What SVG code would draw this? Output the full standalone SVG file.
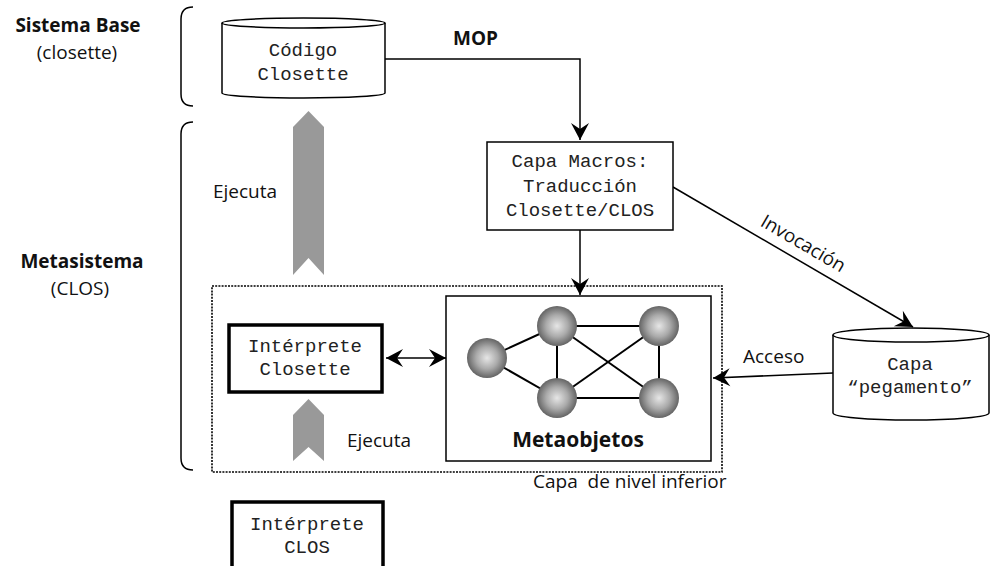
<svg xmlns="http://www.w3.org/2000/svg" width="991" height="566" viewBox="0 0 991 566">
<style>
.mono{font-family:"Liberation Mono","Courier New",monospace;font-size:19px;fill:#222;text-anchor:middle}
.sans{font-family:"Open Sans","Liberation Sans",sans-serif;font-size:19px;fill:#111}
.bold{font-family:"Open Sans","Liberation Sans",sans-serif;font-size:19px;font-weight:bold;fill:#111}
.ln{stroke:#000;stroke-width:1.5;fill:none}
.edge{stroke:#000;stroke-width:1.5}
.medge{stroke:#000;stroke-width:2}
.box{fill:#fff;stroke:#000;stroke-width:1.5}
.thick{fill:#fff;stroke:#000;stroke-width:3.5}
.chev{fill:#999}
.sph{fill:url(#sg)}
</style>
<defs>
<radialGradient id="sg" cx="50%" cy="50%" r="50%">
<stop offset="0" stop-color="#e6e6e6"/>
<stop offset="0.55" stop-color="#aaaaaa"/>
<stop offset="1" stop-color="#646464"/>
</radialGradient>
<marker id="ah" viewBox="-18 -10 20 20" markerWidth="20" markerHeight="20" refX="0" refY="0" orient="auto" markerUnits="userSpaceOnUse">
<path d="M0,0 L-17,-9 L-11,0 L-17,9 Z" fill="#000"/>
</marker>
<marker id="ahs" viewBox="-18 -10 20 20" markerWidth="20" markerHeight="20" refX="0" refY="0" orient="auto-start-reverse" markerUnits="userSpaceOnUse">
<path d="M0,0 L-17,-9 L-11,0 L-17,9 Z" fill="#000"/>
</marker>
</defs>

<!-- Brackets and side labels -->
<g id="brackets">
<path class="ln" d="M193,7 Q181,7 181,19 L181,94 Q181,106 193,106"/>
<path class="ln" d="M193,122 Q181,122 181,134 L181,458 Q181,470 193,470"/>
</g>
<g id="label-sistema-base">
<text class="bold" x="78" y="32" text-anchor="middle">Sistema Base</text>
<text class="sans" x="77" y="59" text-anchor="middle">(closette)</text>
</g>
<g id="label-metasistema">
<text class="bold" x="82" y="268" text-anchor="middle">Metasistema</text>
<text class="sans" x="80" y="295" text-anchor="middle">(CLOS)</text>
</g>

<!-- Layer boundary -->
<g id="capa-nivel-inferior">
<rect x="212" y="286" width="510" height="186" fill="none" stroke="#000" stroke-width="1.6" stroke-dasharray="2,1.2"/>
<text class="sans" x="533" y="488" xml:space="preserve">Capa  de nivel inferior</text>
</g>

<!-- Connectors -->
<g id="connectors">
<path class="ln" d="M385,59 L580,59 L580,140" marker-end="url(#ah)"/>
<text class="bold" x="453" y="45">MOP</text>
<line class="edge" x1="580" y1="230" x2="580" y2="295" marker-end="url(#ah)"/>
<line class="edge" x1="673" y1="187" x2="913" y2="327" marker-end="url(#ah)"/>
<text class="sans" transform="translate(800,249) rotate(30.3)" text-anchor="middle">Invocación</text>
<line class="edge" x1="833" y1="373" x2="713" y2="378" marker-end="url(#ah)"/>
<text class="sans" x="743" y="363">Acceso</text>
<line class="edge" x1="386" y1="358" x2="446" y2="358" marker-start="url(#ahs)" marker-end="url(#ah)"/>
<polygon class="chev" points="293,127 308.5,111 324,127 324,275 308.5,258 293,275"/>
<text class="sans" x="213" y="198">Ejecuta</text>
<polygon class="chev" points="293,415 308.5,399 324,415 324,461 308.5,447 293,461"/>
<text class="sans" x="347" y="447">Ejecuta</text>
</g>

<!-- Nodes -->
<g id="codigo-closette">
<path class="box" d="M222,23 L222,93 A81.5,5 0 0 0 385,93 L385,23"/>
<ellipse class="box" cx="303.5" cy="23" rx="81.5" ry="5"/>
<text class="mono" x="303" y="56">Código</text>
<text class="mono" x="303" y="80">Closette</text>
</g>

<g id="capa-macros">
<rect class="box" x="487" y="142" width="186" height="88"/>
<text class="mono" x="580" y="167">Capa Macros:</text>
<text class="mono" x="580" y="192">Traducción</text>
<text class="mono" x="580" y="216">Closette/CLOS</text>
</g>

<g id="interprete-closette">
<rect class="thick" x="229" y="325" width="153" height="67"/>
<text class="mono" x="305" y="352">Intérprete</text>
<text class="mono" x="305" y="375">Closette</text>
</g>

<g id="metaobjetos">
<rect class="box" x="446" y="296" width="265" height="165"/>
<line class="medge" x1="487" y1="358" x2="557" y2="326"/>
<line class="medge" x1="487" y1="358" x2="557" y2="398"/>
<line class="medge" x1="557" y1="326" x2="659" y2="326"/>
<line class="medge" x1="557" y1="326" x2="557" y2="398"/>
<line class="medge" x1="659" y1="326" x2="659" y2="398"/>
<line class="medge" x1="557" y1="398" x2="659" y2="398"/>
<line class="medge" x1="557" y1="326" x2="659" y2="398"/>
<line class="medge" x1="659" y1="326" x2="557" y2="398"/>
<circle class="sph" cx="487" cy="358" r="20"/>
<circle class="sph" cx="557" cy="326" r="20"/>
<circle class="sph" cx="659" cy="326" r="20"/>
<circle class="sph" cx="557" cy="398" r="20"/>
<circle class="sph" cx="659" cy="398" r="20"/>
<text class="bold" x="578" y="447" text-anchor="middle" style="font-size:21px">Metaobjetos</text>
</g>

<g id="capa-pegamento">
<path class="box" d="M833,335 L833,413 A78,7 0 0 0 989,413 L989,335"/>
<ellipse class="box" cx="911" cy="335" rx="78" ry="7"/>
<text class="mono" x="910" y="370">Capa</text>
<text class="mono" x="910" y="393">“pegamento”</text>
</g>

<g id="interprete-clos">
<rect class="thick" x="232" y="502" width="151" height="80"/>
<text class="mono" x="307" y="530">Intérprete</text>
<text class="mono" x="307" y="553">CLOS</text>
</g>
</svg>
